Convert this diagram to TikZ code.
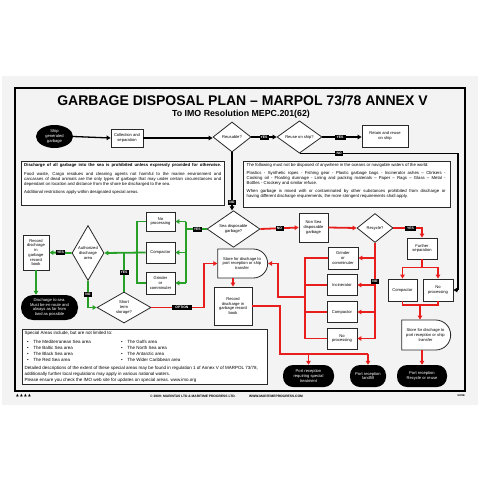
\documentclass[tikz,border=0pt]{standalone}
\usepackage{fontspec}
\setmainfont{Liberation Sans}
\newfontfamily\dvfont{DejaVu Sans}
\usetikzlibrary{shapes.geometric,shapes.misc,arrows.meta}
\definecolor{bgc}{RGB}{243,243,243}
\definecolor{gr}{RGB}{38,160,38}
\definecolor{rd}{RGB}{232,30,28}
\definecolor{bd}{RGB}{40,40,40}
\newcommand\jlineL[1]{\makebox[197pt][s]{#1}}
\newcommand\jlineR[1]{\makebox[199pt][s]{#1}}
\begin{document}
\begin{tikzpicture}[x=1pt,y=-1pt,
  fs/.style={font=\fontsize{4.1}{4.7}\selectfont},
  bx/.style={draw=bd,line width=0.8pt,fill=white,inner sep=0pt,align=center,fs},
  dm/.style={diamond,draw=bd,line width=0.8pt,fill=white,inner sep=0pt,align=center,fs},
  term/.style={fill=black,text=white,rounded corners=10pt,inner sep=0pt,align=center,fs},
  hold/.style={rounded rectangle,rounded rectangle left arc=none,draw=bd,line width=0.8pt,fill=white,inner sep=0pt,align=center,fs},
  lab/.style={fill=black,text=white,inner sep=0pt,minimum height=5pt,font=\fontsize{3.4}{3.4}\selectfont\bfseries},
  tip/.style={-{Triangle[length=4pt,width=4.5pt]}},
  bk/.style={draw=black,line width=1.3pt},
  gn/.style={draw=gr,line width=1.8pt},
  rl/.style={draw=rd,line width=1.8pt},
]
\useasboundingbox (0,0) rectangle (480,480);
\fill[white] (0,0) rectangle (480,480);
\fill[bgc] (2,76) rectangle (478,405);
\draw[line width=1.8pt] (15,88) rectangle (465,391);

% titles
\node[font=\fontsize{14}{14}\selectfont\bfseries] (title) at (242.5,100.5) {GARBAGE DISPOSAL PLAN – MARPOL 73/78 ANNEX V};
\node[font=\fontsize{8.8}{8.8}\selectfont\bfseries] (subtitle) at (241,114) {To IMO Resolution MEPC.201(62)};

% top row
\node[ellipse,fill=black,text=white,minimum width=37pt,minimum height=23pt,inner sep=0pt,align=center,fs] (ship) at (54.5,136.5) {Ship\\generated\\garbage};
\node[bx,minimum width=32pt,minimum height=18pt] (collect) at (127,138) {Collection and\\separation};
\node[dm,minimum width=38pt,minimum height=30pt] (reusable) at (232,137) {Reusable?};
\node[dm,minimum width=45pt,minimum height=30pt] (reuse) at (299.5,137) {Reuse on ship?};
\node[bx,minimum width=46pt,minimum height=22pt] (retain) at (385,136) {Retain and reuse\\on ship};

% text boxes
\node[draw=bd,line width=1pt,fill=white,minimum width=203pt,minimum height=44pt,anchor=north west,inner sep=0pt] (txtL) at (21,161) {};
\node[anchor=north west,align=left,font=\fontsize{4.3}{5}\selectfont,inner sep=0pt] (txtLt) at (24,163.5) {\textbf{\jlineL{Discharge of all garbage into the sea is prohibited unless expressly provided for otherwise.}}\\[3.5pt]
\jlineL{Food waste, Cargo residues and cleaning agents not harmful to the marine environment and}\\
\jlineL{carcasses of dead animals are the only types of garbage that may under certain circumstances and}\\
dependant on location and distance from the shore be discharged to the sea.\\[3.5pt]
Additional restrictions apply within designated special areas.};
\node[draw=bd,line width=1pt,fill=white,minimum width=207pt,minimum height=46pt,anchor=north west,inner sep=0pt] (txtR) at (243,161) {};
\node[anchor=north west,align=left,font=\fontsize{4.3}{5}\selectfont,inner sep=0pt] (txtRt) at (246.5,163.5) {The following must not be disposed of anywhere in the oceans or navigable waters of the world:\\[3pt]
\jlineR{Plastics - Synthetic ropes - Fishing gear - Plastic garbage bags - Incinerator ashes – Clinkers -}\\
\jlineR{Cooking oil - Floating dunnage - Lining and packing materials – Paper – Rags – Glass – Metal -}\\
Bottles - Crockery and similar refuse.\\[3pt]
\jlineR{When garbage is mixed with or contaminated by other substances prohibited from discharge or}\\
having different discharge requirements, the more stringent requirements shall apply.};

% middle
\node[dm,minimum width=53pt,minimum height=30pt] (seadisp) at (233.5,229) {Sea disposable\\garbage?};
\node[bx,minimum width=29pt,minimum height=29pt] (nonsea) at (313.5,227.5) {Non Sea\\disposable\\garbage};
\node[dm,minimum width=36pt,minimum height=29pt] (recycle) at (375,228) {Recycle?};
\node[bx,minimum width=30pt,minimum height=21pt] (further) at (422,248.5) {Further\\separation};
\node[bx,minimum width=29pt,minimum height=22pt] (comp2) at (402.5,290) {Compactor};
\node[bx,minimum width=30pt,minimum height=22pt] (noproc2) at (438,290) {No\\processing};
\node[hold,minimum width=49pt,minimum height=30pt] (store2) at (425.5,335) {Store for dischage to\\port reception or ship\\transfer};
\node[term,minimum width=50pt,minimum height=22pt] (prrec) at (422,376) {Port reception\\Recycle or reuse};

\node[bx,minimum width=30pt,minimum height=22pt] (grind2) at (343,258) {Grinder\\or\\comminuter};
\node[bx,minimum width=30pt,minimum height=21pt] (incin) at (342,285) {Incinerator};
\node[bx,minimum width=30pt,minimum height=21pt] (comp3) at (342,312) {Compactor};
\node[bx,minimum width=30pt,minimum height=21pt] (noproc3) at (342,338.5) {No\\processing};
\node[term,minimum width=36pt,minimum height=22pt] (prland) at (368,376) {Port reception\\landfill};
\node[term,minimum width=51pt,minimum height=22pt] (prspec) at (308.5,376) {Port reception\\requiring special\\treatment};

\node[hold,minimum width=50pt,minimum height=29pt] (store1) at (242,263.5) {Store for dischage to\\port reception or ship\\transfer};
\node[bx,minimum width=38pt,minimum height=38pt] (record2) at (233,306) {Record\\discharge in\\garbage record\\book};

\node[bx,minimum width=29pt,minimum height=19pt] (noproc1) at (160.5,221.5) {No\\processing};
\node[bx,minimum width=29pt,minimum height=21pt] (comp1) at (160.5,252.5) {Compactor};
\node[bx,minimum width=29pt,minimum height=22pt] (grind1) at (160.5,283) {Grinder\\or\\comminuter};
\node[dm,minimum width=30pt,minimum height=55pt] (auth) at (88,253) {Authorized\\discharge\\area};
\node[bx,minimum width=26pt,minimum height=35pt] (record1) at (36,252.5) {Record\\discharge\\in\\garbage\\record\\book};
\node[term,minimum width=57pt,minimum height=25pt,rounded corners=12pt] (dsea) at (49.5,307.5) {Discharge to sea.\\Must be en-route and\\always as far from\\land as possible};
\node[dm,minimum width=54pt,minimum height=31pt] (short) at (124,307.5) {Short\\term\\storage?};

% special areas box
\node[draw=bd,line width=1pt,fill=white,minimum width=245pt,minimum height=55pt,anchor=north west,inner sep=0pt] (spec) at (22,329) {};
\begin{scope}[font=\fontsize{4.5}{6}\selectfont]
\node[anchor=west,inner sep=0pt] (sp0) at (24.5,333.5) {Special Areas include, but are not limited to:};
\node[anchor=north west,inner sep=0pt,align=left] (sp1) at (27,340) {•\quad The Mediterranean Sea area\\•\quad The Baltic Sea area\\•\quad The Black Sea area\\•\quad The Red Sea area};
\node[anchor=north west,inner sep=0pt,align=left] (sp2) at (121,340) {•\quad The Gulfs area\\•\quad The North Sea area\\•\quad The Antarctic area\\•\quad The Wider Caribbean area};
\node[anchor=north west,inner sep=0pt,align=left] (sp3) at (24.5,366) {Detailed descriptions of the extent of these special areas may be found in regulation 1 of Annex V of MARPOL 73/78,\\additionally further local regulations may apply in various national waters.\\Please ensure you check the IMO web site for updates on special areas. www.imo.org};
\end{scope}

% footer
\node[anchor=west,inner sep=0pt,font=\dvfont\fontsize{3.6}{3.6}\selectfont] (tri) at (16,396) {▲\,\,▲\,\,▲\,\,▲};
\node[anchor=west,inner sep=0pt,font=\fontsize{3.3}{3.3}\selectfont\bfseries] (copy) at (150,396) {© 2009: MARINTAS LTD \& MARITIME PROGRESS LTD.};
\node[anchor=west,inner sep=0pt,font=\fontsize{3.3}{3.3}\selectfont\bfseries] (www) at (249,396) {WWW.MARITIMEPROGRESS.COM};
\node[anchor=east,inner sep=0pt,font=\fontsize{2.6}{2.6}\selectfont\bfseries] (code) at (465,395.5) {1009E};

% ---- black connectors
\draw[bk,tip] (ship.east) -- (collect.west);
\draw[bk,tip] (collect.west -| collect.east) -- (reusable.west |- collect.east);
\draw[bk,tip] (reusable.east) -- node[lab,minimum width=9pt]{YES} (reuse.west);
\draw[bk,tip] (reuse.east) -- node[lab,minimum width=11pt,pos=0.45]{YES} (reuse.east -| retain.west);
\draw[bk,tip] (reusable.south) -- node[lab,minimum width=8pt,pos=0.87]{NO} (reusable.south |- seadisp.north);
\coordinate (rc) at (458,290);
\draw[bk] (reuse.south) -- node[lab,minimum width=8pt,pos=0.25]{NO} (reuse.south -| rc) -- (rc);
\draw[bk,tip] (rc) -- (noproc2.east);

% ---- green connectors
\coordinate (gj) at (186,229);
\draw[gn] (seadisp.west) -- node[lab,minimum width=9pt,pos=0.45]{YES} (gj);
\draw[gn] (gj |- noproc1.east) -- (gj |- grind1.east);
\draw[gn,tip] (gj |- noproc1.east) -- (noproc1.east);
\draw[gn,tip] (gj |- comp1.east) -- (comp1.east);
\draw[gn,tip] (gj |- grind1.east) -- (grind1.east);
\coordinate (gc) at (137,253);
\draw[gn] (noproc1.west) -- (gc |- noproc1.west) -- (gc |- grind1.west) -- (grind1.west);
\draw[gn,tip] (comp1.west) -- (auth.east);
\draw[gn] (short.north) -- node[lab,minimum width=9pt]{YES} (short.north |- auth.east);
\draw[gn,tip] (auth.west) -- node[lab,minimum width=9pt]{YES} (record1.east);
\draw[gn,tip] (record1.south) -- (record1.south |- dsea.north);
\draw[gn,tip] (auth.south) |- node[lab,minimum width=8pt,pos=0.25]{NO} (short.west);

% ---- red connectors
\coordinate (ro) at (204,307.5);
\draw[rl] (short.east) -- node[lab,minimum width=20pt,pos=0.58]{OPTION} (ro);
\draw[rl,tip] (ro) |- (store1.west);
\draw[rl,tip] (record2.north |- store1.south) -- (record2.north);
\draw[rl,tip] (seadisp.east) -- node[lab,minimum width=8pt]{NO} (nonsea.west);
\draw[rl,tip] (nonsea.east) -- (recycle.west);
\draw[rl,tip] (recycle.east) -| node[lab,minimum width=11pt,pos=0.3]{YES} (further.north);
\draw[rl] (further.south) -- ++(0,8) coordinate (fs);
\draw[rl] (fs -| comp2.north) -- (fs -| noproc2.north);
\draw[rl,tip] (fs -| comp2.north) -- (comp2.north);
\draw[rl,tip] (fs -| noproc2.north) -- (noproc2.north);
\coordinate (cj) at (420,305);
\draw[rl] (comp2.south) |- (cj);
\draw[rl] (noproc2.south) |- (cj);
\draw[rl,tip] (cj) -- (cj |- store2.north);
\draw[rl,tip] (prrec.north |- store2.south) -- (prrec.north);
\draw[rl] (recycle.south) -- node[lab,minimum width=8pt,pos=0.4]{NO} (recycle.south |- noproc3.east);
\draw[rl,tip] (recycle.south |- grind2.east) -- (grind2.east);
\draw[rl,tip] (recycle.south |- incin.east) -- (incin.east);
\draw[rl,tip] (recycle.south |- comp3.east) -- (comp3.east);
\draw[rl,tip] (recycle.south |- noproc3.east) -- (noproc3.east);
\coordinate (lc) at (305,297);
\draw[rl] (grind2.west) -- (lc |- grind2.west) -- (lc |- noproc3.west) -- (noproc3.west);
\draw[rl] (incin.west) -- (lc |- incin.west);
\draw[rl] (comp3.west) -- (lc |- comp3.west);
\coordinate (lk) at (278,297);
\draw[rl,tip] (lc) -- (lk) |- (store1.east);
\coordinate (rb) at (280,354);
\draw[rl] (record2.east) -| (rb) -- (rb -| prland.north);
\draw[rl,tip] (rb -| prspec.north) -- (prspec.north);
\draw[rl,tip] (rb -| prland.north) -- (prland.north);
\end{tikzpicture}
\end{document}
